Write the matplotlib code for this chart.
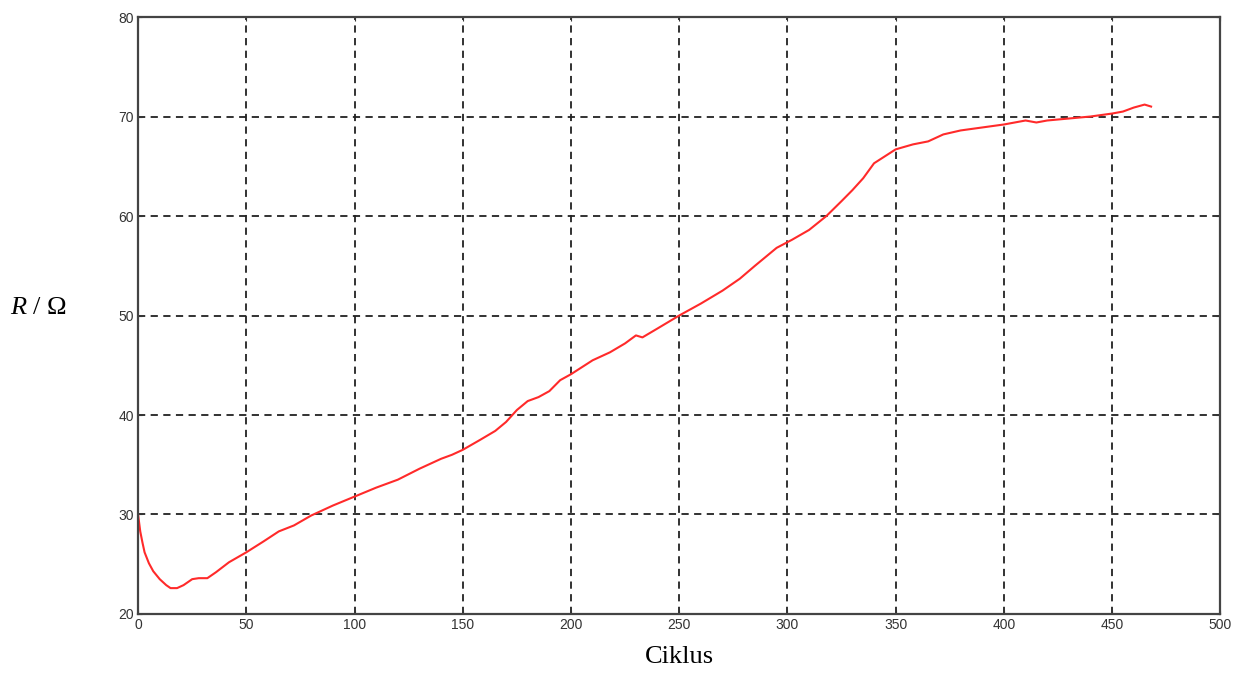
import matplotlib
matplotlib.use("Agg")
import matplotlib.pyplot as plt
import numpy as np

cycles = [0, 1, 2, 3, 5, 7, 10, 13, 15, 18, 21, 25, 28, 32, 36, 42, 50, 58, 65, 72, 80, 90, 100,
          110, 120, 130, 140, 145, 150, 158, 165, 170, 175, 180, 185, 190, 195, 200, 205, 210,
          218, 225, 230, 233, 240, 250, 260, 270, 278, 285, 290, 295, 302, 310, 318, 325,
          330, 335, 340, 345, 350, 358, 365, 372, 380, 390, 400, 405, 410, 415, 420, 430,
          440, 450, 455, 460, 465, 468]
resistance = [30.0, 28.3, 27.2, 26.2, 25.1, 24.3, 23.5, 22.9, 22.6, 22.6, 22.9, 23.5, 23.6, 23.6,
              24.2, 25.2, 26.2, 27.3, 28.3, 28.9, 29.9, 30.9, 31.8, 32.7, 33.5, 34.6, 35.6, 36.0,
              36.5, 37.5, 38.4, 39.3, 40.5, 41.4, 41.8, 42.4, 43.5, 44.1, 44.8, 45.5, 46.3, 47.2,
              48.0, 47.8, 48.7, 50.0, 51.2, 52.5, 53.7, 55.0, 55.9, 56.8, 57.6, 58.6, 60.0, 61.5,
              62.6, 63.8, 65.3, 66.0, 66.7, 67.2, 67.5, 68.2, 68.6, 68.9, 69.2, 69.4, 69.6,
              69.4, 69.6, 69.8, 70.0, 70.3, 70.5, 70.9, 71.2, 71.0]

plt.rcParams["mathtext.fontset"] = "custom"
plt.rcParams["mathtext.it"] = "Liberation Serif:italic"
plt.rcParams["mathtext.rm"] = "Liberation Serif"

fig = plt.figure(figsize=(12.44, 6.81), dpi=100)
ax = fig.add_axes([0.111, 0.0984, 0.870, 0.8766])
ax.plot(cycles, resistance, color="#ff2a2a", lw=1.5)
ax.set_xlim(0, 500)
ax.set_ylim(20, 80)
ax.set_xticks(np.arange(0, 501, 50))
ax.set_yticks(np.arange(20, 81, 10))
ax.grid(True, color="#222222", linestyle=(0, (4, 3)), linewidth=1.3)
ax.tick_params(direction="in", length=3, labelsize=10, width=0.8, top=True, right=True,
               colors="#333333", pad=3)
for lab in ax.get_xticklabels() + ax.get_yticklabels():
    lab.set_family("Liberation Sans")
for s in ax.spines.values():
    s.set_linewidth(1.6)
    s.set_color("#444444")
ax.set_xlabel("Ciklus", family="Liberation Serif", fontsize=19, labelpad=10)
fig.text(0.008, 0.547, r"$R$ / Ω", family="Liberation Serif", fontsize=19,
         ha="left", va="center")
fig.savefig("out.png", dpi=100)
